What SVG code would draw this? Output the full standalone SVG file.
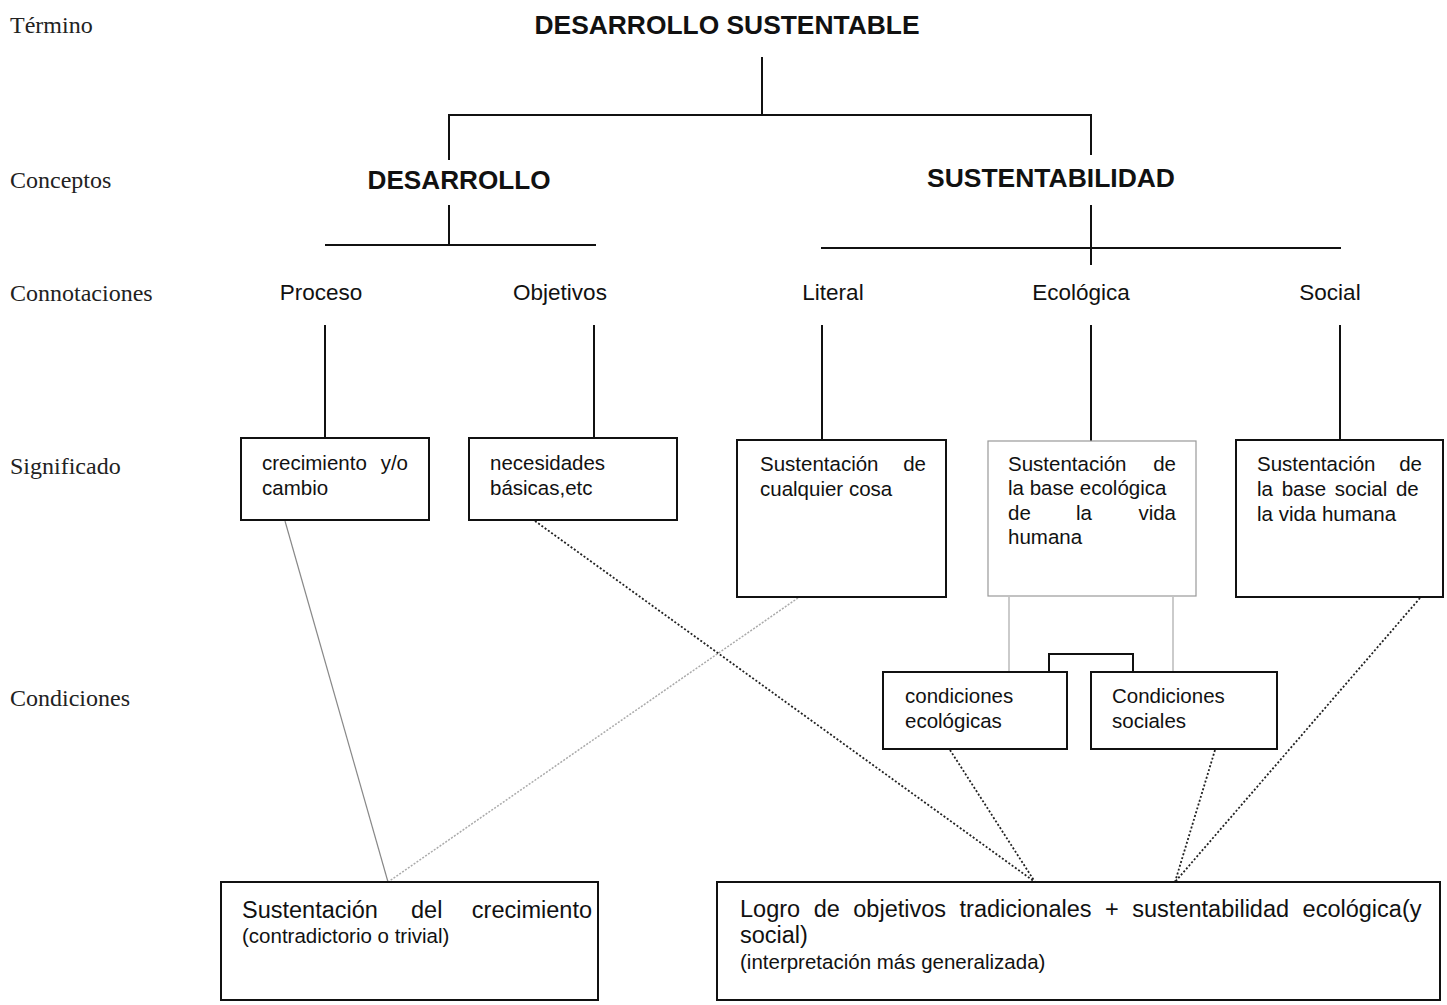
<svg xmlns="http://www.w3.org/2000/svg" width="1447" height="1005" viewBox="0 0 1447 1005">
<style>
.lbl{font-family:"Liberation Serif",serif;font-size:24px;fill:#222}
.ttl{font-family:"Liberation Sans",Arial,sans-serif;font-size:25px;font-weight:bold;fill:#111}
.con{font-family:"Liberation Sans",Arial,sans-serif;font-size:22.5px;fill:#111}
.bt{font-family:"Liberation Sans",Arial,sans-serif;font-size:20.5px;fill:#111}
.bb{font-family:"Liberation Sans",Arial,sans-serif;font-size:23.5px;fill:#111}
.sm{font-family:"Liberation Sans",Arial,sans-serif;font-size:20.5px;fill:#111}
.end{text-anchor:end}
.box{fill:#fff;stroke:#111;stroke-width:2}
.boxg{fill:#fff;stroke:#999;stroke-width:1.2}
.ln{stroke:#111;stroke-width:2;fill:none}
.lg{stroke:#bbb;stroke-width:1.5;fill:none}
.thin{stroke:#888;stroke-width:1.2;fill:none}
.lgd{stroke:#aaa;stroke-width:1.5;fill:none;stroke-dasharray:2 1.5}
.dot{stroke:#222;stroke-width:1.8;fill:none;stroke-dasharray:2 2}
</style>
<rect width="1447" height="1005" fill="#fff"/>
<g id="row-labels">
<text class="lbl" x="10" y="33">Término</text>
<text class="lbl" x="10" y="188">Conceptos</text>
<text class="lbl" x="10" y="301">Connotaciones</text>
<text class="lbl" x="10" y="474">Significado</text>
<text class="lbl" x="10" y="706">Condiciones</text>
</g>
<g id="connectors">
<path class="ln" d="M762 57V115M449 160V115H1091V155"/>
<path class="ln" d="M449 205V245M325 245H596"/>
<path class="ln" d="M1091 205V265M821 248H1341"/>
<path class="ln" d="M325 325V438M594 325V438M822 325V440M1091 325V441M1340 325V440"/>
<path class="lg" d="M1009 597V672M1173 597V672"/>
<path class="ln" d="M1049 672V654H1133V672"/>
<path class="thin" d="M285 521L388 882"/>
<path class="lgd" d="M798 598L388 882"/>
<path class="dot" d="M535 521L1035 882"/>
<path class="dot" d="M950 750L1035 882"/>
<path class="dot" d="M1215 750L1175 882"/>
<path class="dot" d="M1420 598L1175 882"/>
</g>
<g id="n-termino"><text class="ttl" x="727" y="34" text-anchor="middle" textLength="385" lengthAdjust="spacingAndGlyphs">DESARROLLO SUSTENTABLE</text></g>
<g id="n-desarrollo"><text class="ttl" x="459" y="189" text-anchor="middle" textLength="183" lengthAdjust="spacingAndGlyphs">DESARROLLO</text></g>
<g id="n-sustentabilidad"><text class="ttl" x="1051" y="187" text-anchor="middle" textLength="248" lengthAdjust="spacingAndGlyphs">SUSTENTABILIDAD</text></g>
<g id="n-proceso"><text class="con" x="321" y="300" text-anchor="middle">Proceso</text></g>
<g id="n-objetivos"><text class="con" x="560" y="300" text-anchor="middle">Objetivos</text></g>
<g id="n-literal"><text class="con" x="833" y="300" text-anchor="middle">Literal</text></g>
<g id="n-ecologica"><text class="con" x="1081" y="300" text-anchor="middle">Ecológica</text></g>
<g id="n-social"><text class="con" x="1330" y="300" text-anchor="middle">Social</text></g>
<g id="n-crecimiento">
<rect class="box" x="241" y="438" width="188" height="82"/>
<text class="bt" x="262" y="470">crecimiento</text><text class="bt end" x="408" y="470">y/o</text>
<text class="bt" x="262" y="495">cambio</text>
</g>
<g id="n-necesidades">
<rect class="box" x="469" y="438" width="208" height="82"/>
<text class="bt" x="490" y="470">necesidades</text>
<text class="bt" x="490" y="495">básicas,etc</text>
</g>
<g id="n-cualquier">
<rect class="box" x="737" y="440" width="209" height="157"/>
<text class="bt" x="760" y="471">Sustentación</text><text class="bt end" x="926" y="471">de</text>
<text class="bt" x="760" y="496">cualquier cosa</text>
</g>
<g id="n-baseeco">
<rect class="boxg" x="988" y="441" width="208" height="155"/>
<text class="bt" x="1008" y="471">Sustentación</text><text class="bt end" x="1176" y="471">de</text>
<text class="bt" x="1008" y="495">la base ecológica</text>
<text class="bt" x="1008" y="520">de</text><text class="bt" x="1076" y="520">la</text><text class="bt end" x="1176" y="520">vida</text>
<text class="bt" x="1008" y="544">humana</text>
</g>
<g id="n-basesocial">
<rect class="box" x="1236" y="440" width="207" height="157"/>
<text class="bt" x="1257" y="471">Sustentación</text><text class="bt end" x="1422" y="471">de</text>
<text class="bt" x="1257" y="496" word-spacing="3">la base social de</text>
<text class="bt" x="1257" y="521">la vida humana</text>
</g>
<g id="n-condeco">
<rect class="box" x="883" y="672" width="184" height="77"/>
<text class="bt" x="905" y="703">condiciones</text>
<text class="bt" x="905" y="728">ecológicas</text>
</g>
<g id="n-condsoc">
<rect class="box" x="1091" y="672" width="186" height="77"/>
<text class="bt" x="1112" y="703">Condiciones</text>
<text class="bt" x="1112" y="728">sociales</text>
</g>
<g id="n-sustcrec">
<rect class="box" x="221" y="882" width="377" height="118"/>
<text class="bb" x="242" y="918">Sustentación</text><text class="bb" x="411" y="918">del</text><text class="bb end" x="592" y="918">crecimiento</text>
<text class="sm" x="242" y="943">(contradictorio o trivial)</text>
</g>
<g id="n-logro">
<rect class="box" x="717" y="882" width="723" height="118"/>
<text class="bb" x="740" y="917" word-spacing="7">Logro de objetivos tradicionales + sustentabilidad ecológica(y</text>
<text class="bb" x="740" y="943">social)</text>
<text class="sm" x="740" y="969">(interpretación más generalizada)</text>
</g>
</svg>
